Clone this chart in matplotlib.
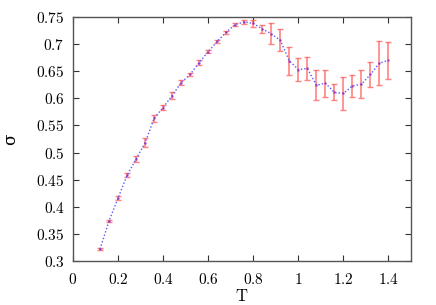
import matplotlib
matplotlib.use("Agg")
import matplotlib.pyplot as plt
from matplotlib.ticker import FuncFormatter, MultipleLocator

plt.rcParams['mathtext.fontset'] = 'cm'
plt.rcParams['font.family'] = ['DejaVu Serif']

T = [0.12, 0.16, 0.20, 0.24, 0.28, 0.32, 0.36, 0.40, 0.44, 0.48, 0.52, 0.56,
     0.60, 0.64, 0.68, 0.72, 0.76, 0.80, 0.84, 0.88, 0.92, 0.96, 1.00, 1.04,
     1.08, 1.12, 1.16, 1.20, 1.24, 1.28, 1.32, 1.36, 1.40]
sigma = [0.322, 0.374, 0.416, 0.458, 0.488, 0.518, 0.563, 0.583, 0.605, 0.629,
         0.644, 0.666, 0.686, 0.705, 0.722, 0.736, 0.741, 0.738, 0.728, 0.719,
         0.707, 0.669, 0.653, 0.655, 0.624, 0.628, 0.611, 0.609, 0.623, 0.626,
         0.644, 0.665, 0.670]
err = [0.002, 0.002, 0.003, 0.004, 0.006, 0.008, 0.007, 0.004, 0.007, 0.004,
       0.003, 0.004, 0.003, 0.003, 0.003, 0.003, 0.004, 0.007, 0.008, 0.019,
       0.020, 0.026, 0.021, 0.022, 0.028, 0.025, 0.0145, 0.030, 0.020, 0.0255,
       0.0225, 0.041, 0.034]

fig = plt.figure(figsize=(4.36, 3.05), dpi=100)
ax = fig.add_axes([0.1674, 0.1443, 0.9427 - 0.1674, 0.9443 - 0.1443])

ax.errorbar(T, sigma, yerr=err, fmt='none', ecolor=(1.0, 0.35, 0.35), alpha=0.75,
            elinewidth=1.2, capsize=2.5, capthick=1.0, zorder=2)
ax.plot(T, sigma, linestyle=(0, (1, 1.5)), color=(0.35, 0.35, 1.0), lw=1.0, zorder=3)
ax.plot(T, sigma, linestyle='none', marker='s', ms=1.8, mec='none',
        color=(0.6, 0.2, 0.7), zorder=4)

ax.set_xlim(0, 1.5)
ax.set_ylim(0.3, 0.75)
ax.xaxis.set_major_locator(MultipleLocator(0.2))
ax.yaxis.set_major_locator(MultipleLocator(0.05))

def fmt(v, pos):
    s = f"{v:.2f}".rstrip('0').rstrip('.')
    if abs(v) < 1e-9:
        s = "0"
    if v > 1.45:
        return ""
    return "$" + s + "$"

ax.xaxis.set_major_formatter(FuncFormatter(fmt))
ax.yaxis.set_major_formatter(FuncFormatter(fmt))
ax.tick_params(direction='in', top=True, right=True, length=4, width=0.8,
               labelsize=11, colors='#333333', labelcolor='black')
ax.tick_params(axis='x', pad=8)
ax.tick_params(axis='y', pad=6)
for s in ax.spines.values():
    s.set_color('#555555')
    s.set_linewidth(1.0)

ax.set_xlabel(r'$\mathrm{T}$', fontsize=12, labelpad=1)
ax.set_ylabel('σ', fontsize=12, labelpad=12, family='DejaVu Serif')

fig.savefig('out.png', dpi=100)
